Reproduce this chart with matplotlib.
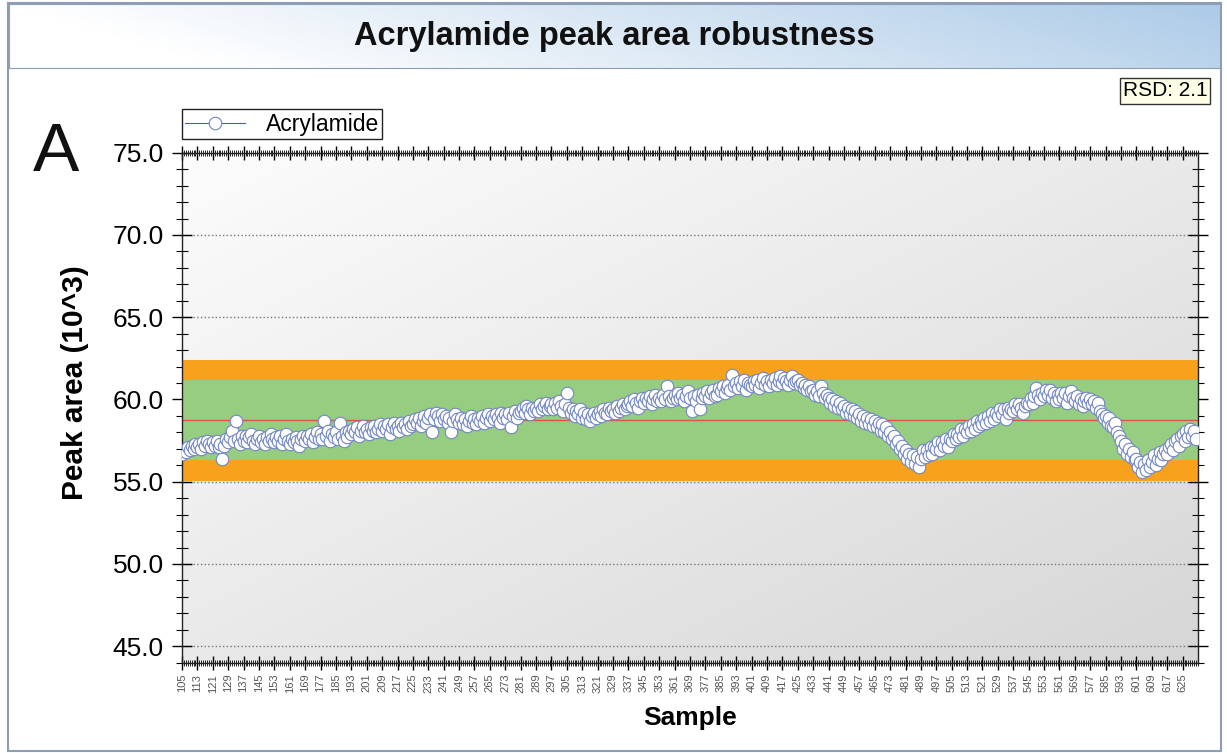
import numpy as np
import matplotlib.pyplot as plt
from matplotlib.patches import Rectangle
from matplotlib.ticker import MultipleLocator, FixedLocator

plt.rcParams['font.family'] = ['Liberation Sans', 'DejaVu Sans']

# sample numbers 105..632, one peak area (10^3) per sample
first_sample = 105
peak_area = [
    56.7, 56.9, 56.8, 57.1, 56.9, 57.2, 57.0, 57.3,
    57.1, 57.3, 57.0, 57.4, 57.2, 57.5, 57.3, 57.1,
    57.4, 57.2, 57.5, 57.1, 57.3, 56.4, 57.2, 57.6,
    57.4, 57.7, 58.1, 57.5, 58.7, 57.6, 57.3, 57.8,
    57.5, 57.8, 57.4, 57.7, 57.9, 57.5, 57.3, 57.6,
    57.8, 57.4, 57.6, 57.3, 57.7, 57.5, 57.9, 57.6,
    57.4, 57.7, 57.5, 57.8, 57.3, 57.6, 57.9, 57.5,
    57.3, 57.6, 57.4, 57.7, 57.5, 57.2, 57.6, 57.8,
    57.5, 57.8, 57.6, 57.9, 57.4, 57.7, 58.0, 57.6,
    57.9, 57.6, 58.7, 57.8, 58.1, 57.5, 57.9, 57.7,
    58.0, 57.6, 58.6, 57.8, 57.5, 58.0, 57.7, 58.1,
    57.9, 58.2, 58.0, 58.3, 57.8, 58.1, 58.4, 58.0,
    58.2, 57.9, 58.3, 58.1, 58.4, 58.0, 58.2, 58.5,
    58.1, 58.4, 58.2, 58.5, 57.9, 58.3, 58.6, 58.2,
    58.4, 58.1, 58.6, 58.3, 58.5, 58.2, 58.7, 58.4,
    58.5, 58.8, 58.6, 58.9, 58.4, 58.7, 59.0, 58.6,
    58.9, 59.1, 58.0, 58.8, 59.2, 59.0, 58.7, 59.1,
    58.8, 59.0, 58.6, 58.9, 58.0, 58.7, 59.1, 58.8,
    58.6, 58.9, 58.5, 58.8, 58.4, 58.7, 59.0, 58.6,
    58.8, 58.5, 58.9, 58.7, 59.0, 58.6, 58.9, 59.1,
    58.7, 59.0, 58.8, 59.1, 58.9, 58.6, 59.2, 58.9,
    59.1, 58.8, 59.2, 58.3, 59.0, 59.3, 58.9, 59.2,
    59.3, 59.5, 59.2, 59.6, 59.4, 59.1, 59.5, 59.3,
    59.5, 59.3, 59.7, 59.4, 59.6, 59.8, 59.4, 59.6,
    59.7, 59.4, 59.8, 59.5, 59.9, 59.6, 59.3, 59.7,
    60.4, 59.5, 59.2, 59.4, 59.0, 59.3, 59.1, 59.4,
    58.9, 59.2, 58.8, 59.1, 58.7, 59.0, 59.2, 58.9,
    59.1, 59.3, 59.0, 59.4, 59.2, 59.1, 59.5, 59.3,
    59.4, 59.2, 59.6, 59.3, 59.5, 59.7, 59.4, 59.6,
    59.7, 59.9, 59.6, 60.0, 59.8, 59.5, 59.9, 60.1,
    59.8, 60.1, 59.9, 60.2, 59.7, 60.0, 60.3, 59.9,
    60.1, 59.9, 60.3, 60.0, 60.8, 60.2, 59.9, 60.1,
    60.3, 60.0, 60.4, 60.1, 60.3, 59.9, 60.2, 60.5,
    60.1, 59.3, 60.2, 59.9, 60.3, 59.4, 60.1, 60.4,
    60.2, 60.5, 60.1, 60.4, 60.6, 60.2, 60.3, 60.7,
    60.5, 60.8, 60.4, 60.7, 60.9, 60.6, 61.5, 60.8,
    61.0, 60.7, 61.1, 60.8, 61.2, 60.6, 61.0, 60.9,
    60.8, 61.1, 60.9, 61.2, 60.7, 61.0, 61.3, 60.9,
    61.1, 60.8, 61.2, 61.0, 61.3, 60.9, 61.1, 61.4,
    61.0, 61.3, 61.1, 60.9, 61.2, 61.4, 61.0, 61.1,
    61.2, 60.9, 61.0, 60.7, 60.9, 60.6, 60.8, 60.5,
    60.6, 60.3, 60.5, 60.2, 60.8, 60.4, 60.1, 60.3,
    60.1, 59.8, 60.0, 59.6, 59.9, 59.5, 59.8, 59.4,
    59.6, 59.2, 59.5, 59.1, 59.4, 59.0, 59.3, 58.9,
    59.1, 58.7, 59.0, 58.6, 58.9, 58.5, 58.8, 58.4,
    58.7, 58.3, 58.6, 58.1, 58.5, 58.0, 58.3, 57.8,
    58.0, 57.6, 57.8, 57.3, 57.5, 57.0, 57.2, 56.7,
    56.9, 56.4, 56.7, 56.2, 56.6, 56.1, 56.5, 55.9,
    56.4, 56.9, 56.5, 56.9, 56.6, 57.1, 56.7, 57.1,
    57.0, 57.4, 56.9, 57.4, 57.2, 57.6, 57.1, 57.6,
    57.5, 57.9, 57.6, 57.9, 57.7, 58.2, 57.8, 58.2,
    58.0, 58.4, 58.1, 58.5, 58.2, 58.7, 58.4, 58.7,
    58.5, 58.9, 58.6, 59.0, 58.7, 59.2, 58.8, 59.2,
    59.0, 59.4, 59.1, 59.4, 58.8, 59.5, 59.2, 59.4,
    59.3, 59.7, 59.4, 59.7, 59.5, 59.2, 59.6, 59.8,
    59.7, 60.1, 59.8, 60.2, 60.7, 60.3, 60.0, 60.4,
    60.2, 60.6, 60.3, 60.6, 60.1, 60.4, 59.9, 60.3,
    60.0, 60.4, 60.1, 60.4, 59.8, 60.2, 60.5, 60.1,
    59.9, 60.2, 59.7, 60.0, 59.6, 59.9, 60.1, 59.8,
    60.0, 59.7, 59.9, 59.5, 59.8, 59.3, 59.1, 58.9,
    59.0, 58.6, 58.9, 58.4, 58.3, 58.6, 58.0, 57.8,
    57.5, 57.0, 57.3, 56.7, 57.0, 56.5, 56.8, 56.3,
    56.4, 55.9, 56.2, 55.6, 56.1, 55.7, 56.3, 55.9,
    56.2, 56.6, 56.0, 56.4, 56.8, 56.3, 56.7, 56.9,
    56.7, 57.1, 57.3, 56.9, 57.5, 57.6, 57.2, 57.8,
    57.9, 57.5, 58.1, 57.7, 58.2, 57.8, 58.1, 57.6,
]
samples = np.arange(first_sample, first_sample + len(peak_area))

# control limits
center = 58.73
inner_limits = [56.34, 61.2]   # green band
outer_limits = [55.07, 62.39]  # orange bands
rsd_text = 'RSD: 2.1'
tick_labels = list(range(105, 626, 8))

W, H = 1227, 753
fig = plt.figure(figsize=(W / 100, H / 100), dpi=100)

# outer frame + title bar
fig.patches.append(Rectangle((8 / W, 2 / H), 1213 / W, 748 / H, transform=fig.transFigure,
                             facecolor='white', edgecolor='#8d9db3', lw=1.5, zorder=-5))
tax = fig.add_axes([9 / W, 1 - 68 / H, 1211 / W, 64 / H])
gx = np.linspace(0, 1, 300)
gy = np.linspace(0, 1, 20)
GX, GY = np.meshgrid(gx, gy)
t = np.clip(GX * 0.85 + GY * 0.15 - 0.15, 0, 1)
c0 = np.array([1.0, 1.0, 1.0])
c1 = np.array([0.62, 0.76, 0.89])
grad = c0 + (c1 - c0) * t[..., None]
tax.imshow(grad, extent=(0, 1, 0, 1), aspect='auto', origin='lower')
tax.set_xlim(0, 1)
tax.set_ylim(0, 1)
tax.set_xticks([])
tax.set_yticks([])
for s in tax.spines.values():
    s.set_color('#8d9db3')
tax.text(0.5, 0.5, 'Acrylamide peak area robustness', ha='center', va='center',
         fontsize=23.5, fontweight='bold', color='#111111')

ax = fig.add_axes([182 / W, 1 - 662.7 / H, (1198 - 182) / W, (662.7 - 152.7) / H])

# plot background gradient (light top-left to grey bottom-right)
bx, by = np.meshgrid(np.linspace(0, 1, 200), np.linspace(0, 1, 200))
bt = np.clip((bx * 0.5 + (1 - by) * 0.5), 0, 1)
b0 = np.array([0.99, 0.99, 0.99])
b1 = np.array([0.84, 0.84, 0.84])
bg = b0 + (b1 - b0) * bt[..., None]
ax.imshow(bg, extent=(0, 1, 0, 1), transform=ax.transAxes, aspect='auto',
          origin='lower', zorder=0)

ax.axhspan(outer_limits[0], inner_limits[0], color='#F7A11C', lw=0, zorder=1)
ax.axhspan(inner_limits[1], outer_limits[1], color='#F7A11C', lw=0, zorder=1)
ax.axhspan(inner_limits[0], inner_limits[1], color='#97CD81', lw=0, zorder=1)
ax.axhline(center, color='#E0524A', lw=1, zorder=2)

ax.plot(samples, peak_area, color='#4A5FA8', lw=0.8, marker='o', markersize=9,
        markerfacecolor='white', markeredgecolor='#7286C2', markeredgewidth=0.8,
        zorder=3, label='Acrylamide')

ax.set_xlim(105, 633)
ax.set_ylim(44, 75)
ax.set_axisbelow(True)
ax.yaxis.grid(True, which='major', linestyle=':', color='#777777', lw=1)

ax.yaxis.set_minor_locator(MultipleLocator(1))
ax.set_yticks(np.arange(45, 76, 5))
ax.set_yticklabels([f'{v:.1f}' for v in np.arange(45, 76, 5)])
ax.xaxis.set_major_locator(FixedLocator(tick_labels))
ax.xaxis.set_minor_locator(MultipleLocator(1))
ax.set_xticklabels([str(v) for v in tick_labels], rotation=90, fontsize=8, color='#555555')

ax.tick_params(axis='y', which='major', direction='inout', length=14, width=1,
               labelsize=19, left=True, right=True, pad=6)
ax.tick_params(axis='y', which='minor', direction='inout', length=8, width=0.8,
               left=True, right=True)
ax.tick_params(axis='x', which='major', direction='inout', length=10, width=1,
               top=True, bottom=True, pad=3)
ax.tick_params(axis='x', which='minor', direction='inout', length=5, width=0.6,
               top=True, bottom=True)
for s in ax.spines.values():
    s.set_color('#222222')
    s.set_linewidth(1)

ax.legend(loc='lower left', bbox_to_anchor=(182 / W, 1 - 139 / H), bbox_transform=fig.transFigure,
          fontsize=16.5, frameon=True, fancybox=False, edgecolor='#222222', framealpha=1,
          borderpad=0.15, handlelength=2.6, handletextpad=0.9, borderaxespad=0)

fig.text(56 / W, 1 - 153 / H, 'A', fontsize=50, ha='center', va='center', color='#111111')
fig.text(75 / W, 1 - 383 / H, 'Peak area (10^3)', rotation=90, fontsize=21.5,
         fontweight='bold', ha='center', va='center')
fig.text(690 / W, 1 - 718 / H, 'Sample', fontsize=19, fontweight='bold',
         ha='center', va='center')
fig.text(1165 / W, 1 - 91 / H, rsd_text, fontsize=15, ha='center', va='center',
         bbox=dict(boxstyle='square,pad=0.15', facecolor='#FFFFE8', edgecolor='#333333', lw=1))

fig.savefig('out.png', dpi=100)
